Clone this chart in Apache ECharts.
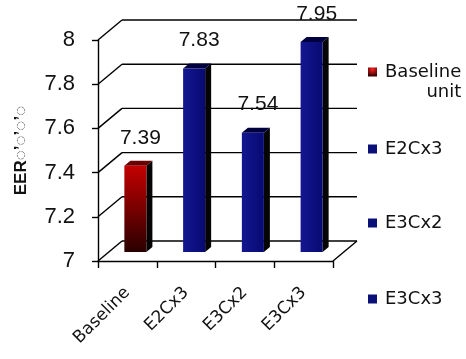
<!DOCTYPE html>
<html>
<head>
<meta charset="utf-8">
<script src="https://cdn.jsdelivr.net/npm/echarts@6/dist/echarts.min.js"></script>
<style>
  html, body { margin: 0; padding: 0; background: #ffffff; }
  #chart { width: 466px; height: 359px; }
</style>
</head>
<body>
<div id="chart"></div>
<script>
// Chart data
var categories = ['Baseline', 'E2Cx3', 'E3Cx2', 'E3Cx3'];
var seriesNames = ['Baseline unit', 'E2Cx3', 'E3Cx2', 'E3Cx3'];
var eerValues = [7.39, 7.83, 7.54, 7.95];
var yTicks = [7, 7.2, 7.4, 7.6, 7.8, 8];
var yAxisTitle = 'EER\u25CC\u2019\u25CC\u2019\u25CC\u2019\u25CC';

// 3D look: depth of the back wall and placement of each box inside it
var WALL_DX = 24, WALL_DY = -20;
var BAR_DX = 11, BAR_DY = -9;
var TOP_DX = 6, TOP_DY = -5;

var redFace = new echarts.graphic.LinearGradient(0, 0, 0, 1, [
  { offset: 0, color: '#c40000' }, { offset: 1, color: '#2a0000' }
]);
var blueFace = new echarts.graphic.LinearGradient(0, 0, 1, 0, [
  { offset: 0, color: '#131690' }, { offset: 1, color: '#070a72' }
]);
var faceColors = [redFace, blueFace, blueFace, blueFace];
var topColors = ['#6a0000', '#00003e', '#00003e', '#00003e'];
var legendColors = [
  new echarts.graphic.RadialGradient(0.5, 0.2, 0.8, [
    { offset: 0, color: '#ff2020' }, { offset: 1, color: '#300000' }
  ]),
  '#0a1078', '#0a1078', '#0a1078'
];

function renderBox(idx) {
  return function (params, api) {
    var cat = api.value(0), val = api.value(1);
    var top = api.coord([cat, val]);
    var base = api.coord([cat, 7]);
    var band = api.size([1, 0])[0];
    var faceW = band * 0.375;
    var cx = top[0] + BAR_DX;
    var x0 = cx - faceW / 2 - TOP_DX / 2;
    var x1 = x0 + faceW;
    var yTop = top[1] + BAR_DY;
    var yBot = base[1] + BAR_DY;
    return {
      type: 'group',
      children: [
        { type: 'polygon', shape: { points: [[x1, yTop], [x1 + TOP_DX, yTop + TOP_DY], [x1 + TOP_DX, yBot + TOP_DY], [x1, yBot]] },
          style: { fill: '#050505' } },
        { type: 'polygon', shape: { points: [[x0, yTop], [x0 + TOP_DX, yTop + TOP_DY], [x1 + TOP_DX, yTop + TOP_DY], [x1, yTop]] },
          style: { fill: topColors[idx] } },
        { type: 'rect', shape: { x: x0, y: yTop, width: faceW, height: yBot - yTop },
          style: { fill: faceColors[idx] } },
        { type: 'text', x: cx + 2, y: yTop - 28,
          style: { text: String(val), fill: '#111', font: '21px "Liberation Sans", Arial, sans-serif',
                   align: 'center', verticalAlign: 'middle' } }
      ]
    };
  };
}

function renderFrame(params, api) {
  var v = api.value(0);
  var cs = params.coordSys;
  var p = api.coord([0, v]);
  var y = p[1];
  var xl = cs.x, xr = cs.x + cs.width;
  var line = { stroke: '#000', lineWidth: 1.4 };
  var children = [
    { type: 'line', shape: { x1: xl, y1: y, x2: xl + WALL_DX, y2: y + WALL_DY }, style: line },
    { type: 'line', shape: { x1: xl + WALL_DX, y1: y + WALL_DY, x2: xr + WALL_DX, y2: y + WALL_DY }, style: line }
  ];
  if (v === yTicks[0]) {
    children.push({ type: 'line', shape: { x1: xr, y1: y, x2: xr + WALL_DX, y2: y + WALL_DY }, style: line });
  }
  return { type: 'group', children: children };
}

var series = [{
  type: 'custom',
  name: 'frame',
  silent: true,
  z: 1,
  renderItem: renderFrame,
  data: yTicks.map(function (t) { return [t]; }),
  encode: { y: 0 }
}];
seriesNames.forEach(function (name, i) {
  series.push({
    type: 'custom',
    name: name,
    z: 3,
    itemStyle: { color: legendColors[i] },
    renderItem: renderBox(i),
    data: [[i, eerValues[i]]]
  });
});

var legendTops = [42, 139, 213, 289];
var legends = seriesNames.map(function (name, i) {
  return {
    data: [{ name: name, itemStyle: { color: legendColors[i] } }],
    orient: 'vertical',
    left: 368,
    top: legendTops[i],
    icon: 'rect',
    itemWidth: 9,
    itemHeight: 9,
    itemGap: 0,
    padding: 0,
    selectedMode: false,
    formatter: function (n) {
      return n === 'Baseline unit' ? '\n{a|Baseline}\n{b|unit}' : n;
    },
    textStyle: {
      color: '#111',
      fontFamily: '"DejaVu Sans", sans-serif',
      fontSize: 18,
      lineHeight: 20,
      padding: [0, 0, 0, 3],
      rich: {
        a: { fontSize: 18, fontFamily: '"DejaVu Sans", sans-serif', color: '#111', lineHeight: 20 },
        b: { fontSize: 18, fontFamily: '"DejaVu Sans", sans-serif', color: '#111', lineHeight: 20, align: 'right' }
      }
    }
  };
});

var chart = echarts.init(document.getElementById('chart'), null, { renderer: 'canvas' });
chart.setOption({
  backgroundColor: '#ffffff',
  animation: false,
  legend: legends,
  grid: { left: 98, top: 40, width: 235, height: 221 },
  xAxis: {
    type: 'category',
    data: categories,
    boundaryGap: true,
    axisLine: { lineStyle: { color: '#000', width: 1.4 } },
    axisTick: { show: true, length: 7, interval: 0, lineStyle: { color: '#000', width: 1.4 } },
    axisLabel: {
      rotate: 45, margin: 29, interval: 0, color: '#111',
      fontFamily: '"DejaVu Sans", sans-serif', fontSize: 17
    },
    splitLine: { show: false }
  },
  yAxis: {
    type: 'value',
    min: 7, max: 8, interval: 0.2,
    name: yAxisTitle,
    nameLocation: 'middle',
    nameGap: 68,
    nameTextStyle: { color: '#111', fontWeight: 'bold', fontSize: 17,
                     fontFamily: '"Liberation Sans", Arial, sans-serif' },
    axisLine: { show: true, lineStyle: { color: '#000', width: 1.4 } },
    axisTick: { show: true, length: 6, lineStyle: { color: '#000', width: 1.4 } },
    axisLabel: { margin: 23, color: '#111', fontSize: 22,
                 fontFamily: '"Liberation Sans", Arial, sans-serif' },
    splitLine: { show: false }
  },
  series: series
});
</script>
</body>
</html>
